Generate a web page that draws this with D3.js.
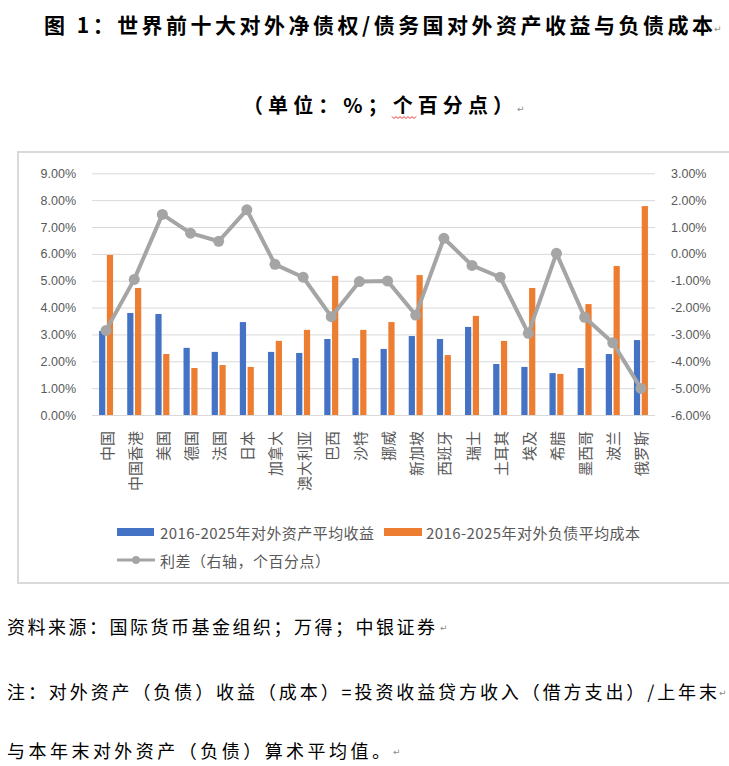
<!DOCTYPE html>
<html>
<head>
<meta charset="utf-8">
<script src="https://cdn.jsdelivr.net/npm/d3@7/dist/d3.min.js"></script>
<style>
  body { margin: 0; background: #fff; }
  svg { display: block; }
</style>
</head>
<body>
<svg id="chart" width="729" height="766"></svg>
<script>
// countries on the x axis
var categories = ["中国","中国香港","美国","德国","法国","日本","加拿大","澳大利亚","巴西","沙特",
                  "挪威","新加坡","西班牙","瑞士","土耳其","埃及","希腊","墨西哥","波兰","俄罗斯"];
// 2016-2025 average yield on foreign assets (%)
var assetYield = [3.13,3.80,3.76,2.50,2.35,3.46,2.35,2.31,2.83,2.12,2.46,2.94,2.83,3.28,1.90,1.79,1.56,1.75,2.27,2.79];
// 2016-2025 average cost of foreign liabilities (%)
var liabilityCost = [5.96,4.73,2.27,1.75,1.86,1.79,2.76,3.17,5.18,3.17,3.46,5.21,2.23,3.69,2.76,4.73,1.53,4.13,5.55,7.78];
// spread, right axis (percentage points)
var spread = [-2.85,-0.95,1.47,0.77,0.47,1.64,-0.39,-0.87,-2.34,-1.03,-1.01,-2.28,0.58,-0.43,-0.87,-2.96,0.02,-2.36,-3.31,-5.01];

var leftTicks = [0,1,2,3,4,5,6,7,8,9];
var rightTicks = [-6,-5,-4,-3,-2,-1,0,1,2,3];
var seriesNames = ["2016-2025年对外资产平均收益","2016-2025年对外负债平均成本","利差（右轴，个百分点）"];

var BLUE = "#4472C4", ORANGE = "#ED7D31", GRAY = "#A5A5A5", TXT = "#595959";
var CJK = "'Noto Sans CJK SC', 'Noto Sans', sans-serif";

var svg = d3.select("#chart");

//page texts above the chart
svg.append("text")
    .attr("x", 44).attr("y", 33)
    .attr("textLength", 669)
    .style("font-family", CJK).style("font-size", "21px").style("font-weight", "bold")
    .attr("fill", "#000")
    .text("图 1：世界前十大对外净债权/债务国对外资产收益与负债成本");

svg.append("text")
    .attr("x", 243).attr("y", 113)
    .attr("textLength", 270)
    .style("font-family", CJK).style("font-size", "20px").style("font-weight", "bold")
    .attr("fill", "#000")
    .text("（单位：%；个百分点）");

//red spell check squiggle under 个
var squiggle = [];
for (var i = 0; i <= 12; i++) squiggle.push([392 + i * 2, 117 + (i % 2 ? 1.5 : -0.5)]);
svg.append("path")
    .attr("d", d3.line()(squiggle))
    .attr("fill", "none").attr("stroke", "#e00").attr("stroke-width", 0.8);

//chart frame
svg.append("rect")
    .attr("x", 18).attr("y", 152)
    .attr("width", 730).attr("height", 431)
    .attr("fill", "none").attr("stroke", "#D9D9D9").attr("stroke-width", 2);

var plot = {left: 92, right: 655, top: 173.3, bottom: 415};

var x0 = d3.scaleBand().domain(categories).range([plot.left, plot.right]).paddingInner(0);
var x1 = d3.scaleBand().domain(["asset","liab"]).range([-7, 7]).paddingInner(0.2);
var yL = d3.scaleLinear().domain([0, 9]).range([plot.bottom, plot.top]);
var yR = d3.scaleLinear().domain([-6, 3]).range([plot.bottom, plot.top]);

//gridlines and left axis
var leftAxis = svg.append("g")
    .attr("transform", "translate(" + plot.left + ",0)")
    .call(d3.axisLeft(yL).tickValues(leftTicks)
        .tickSize(-(plot.right - plot.left))
        .tickPadding(16)
        .tickFormat(function(d){ return d.toFixed(2) + "%"; }));
leftAxis.select(".domain").remove();
leftAxis.selectAll("line").attr("stroke", "#D9D9D9").attr("stroke-width", 1);
leftAxis.selectAll("text").attr("fill", TXT)
    .style("font-family", "'Liberation Sans', Arial, sans-serif").style("font-size", "12.5px");

var rightAxis = svg.append("g")
    .attr("transform", "translate(" + plot.right + ",0)")
    .call(d3.axisRight(yR).tickValues(rightTicks)
        .tickSize(0)
        .tickPadding(16)
        .tickFormat(function(d){ return d.toFixed(2) + "%"; }));
rightAxis.select(".domain").remove();
rightAxis.selectAll("text").attr("fill", TXT)
    .style("font-family", "'Liberation Sans', Arial, sans-serif").style("font-size", "12.5px");

//bars
var rows = categories.map(function(c, i){
    return {cat: c, asset: assetYield[i], liab: liabilityCost[i], spread: spread[i]};
});
var center = function(c){ return x0(c) + x0.bandwidth() / 2; };

svg.append("g").selectAll("rect.asset")
    .data(rows).enter().append("rect")
    .attr("x", function(d){ return center(d.cat) + x1("asset"); })
    .attr("y", function(d){ return yL(d.asset); })
    .attr("width", x1.bandwidth())
    .attr("height", function(d){ return yL(0) - yL(d.asset); })
    .attr("fill", BLUE);

svg.append("g").selectAll("rect.liab")
    .data(rows).enter().append("rect")
    .attr("x", function(d){ return center(d.cat) + x1("liab"); })
    .attr("y", function(d){ return yL(d.liab); })
    .attr("width", x1.bandwidth())
    .attr("height", function(d){ return yL(0) - yL(d.liab); })
    .attr("fill", ORANGE);

//spread line on the right axis
var lineFunction = d3.line()
    .x(function(d){ return center(d.cat); })
    .y(function(d){ return yR(d.spread); });

svg.append("path")
    .attr("d", lineFunction(rows))
    .attr("fill", "none").attr("stroke", GRAY)
    .attr("stroke-width", 4).attr("stroke-linejoin", "round");

svg.append("g").selectAll("circle")
    .data(rows).enter().append("circle")
    .attr("cx", function(d){ return center(d.cat); })
    .attr("cy", function(d){ return yR(d.spread); })
    .attr("r", 5.5)
    .attr("fill", GRAY);

//rotated category labels
svg.append("g").selectAll("text")
    .data(categories).enter().append("text")
    .attr("transform", function(d){ return "translate(" + center(d) + ",431) rotate(-90)"; })
    .attr("text-anchor", "end")
    .attr("dominant-baseline", "central")
    .attr("fill", TXT)
    .style("font-family", CJK).style("font-size", "15px")
    .text(function(d){ return d; });

//legend
var legend = svg.append("g").style("font-family", CJK).style("font-size", "15px");
legend.append("rect").attr("x", 117).attr("y", 528).attr("width", 37).attr("height", 8).attr("fill", BLUE);
legend.append("text").attr("x", 160).attr("y", 532).attr("dominant-baseline", "central")
    .attr("textLength", 214).attr("fill", TXT).text(seriesNames[0]);
legend.append("rect").attr("x", 384).attr("y", 528).attr("width", 38).attr("height", 8).attr("fill", ORANGE);
legend.append("text").attr("x", 426).attr("y", 532).attr("dominant-baseline", "central")
    .attr("textLength", 214).attr("fill", TXT).text(seriesNames[1]);
legend.append("line").attr("x1", 117).attr("x2", 155).attr("y1", 560).attr("y2", 560)
    .attr("stroke", GRAY).attr("stroke-width", 3);
legend.append("circle").attr("cx", 136).attr("cy", 560).attr("r", 4).attr("fill", GRAY);
legend.append("text").attr("x", 160).attr("y", 560).attr("dominant-baseline", "central")
    .attr("textLength", 170).attr("fill", TXT).text(seriesNames[2]);

//footnotes
var notes = [
    {t: "资料来源：国际货币基金组织；万得；中银证券", y: 634, len: 428, mark: 440},
    {t: "注：对外资产（负债）收益（成本）=投资收益贷方收入（借方支出）/上年末", y: 699, len: 710, mark: 719},
    {t: "与本年末对外资产（负债）算术平均值。", y: 758, len: 383, mark: 393}
];
svg.append("g").selectAll("text")
    .data(notes).enter().append("text")
    .attr("x", 7).attr("y", function(d){ return d.y; })
    .attr("textLength", function(d){ return d.len; })
    .attr("fill", "#000")
    .style("font-family", CJK).style("font-size", "18px")
    .text(function(d){ return d.t; });

//paragraph marks
var marks = [{x: 714, y: 32}, {x: 517, y: 112}].concat(notes.map(function(d){ return {x: d.mark, y: d.y - 3}; }));
svg.append("g").selectAll("text")
    .data(marks).enter().append("text")
    .attr("x", function(d){ return d.x; }).attr("y", function(d){ return d.y; })
    .attr("fill", "#8c8c8c")
    .style("font-family", "'DejaVu Sans', sans-serif").style("font-size", "9px")
    .text("↵");
</script>
</body>
</html>
